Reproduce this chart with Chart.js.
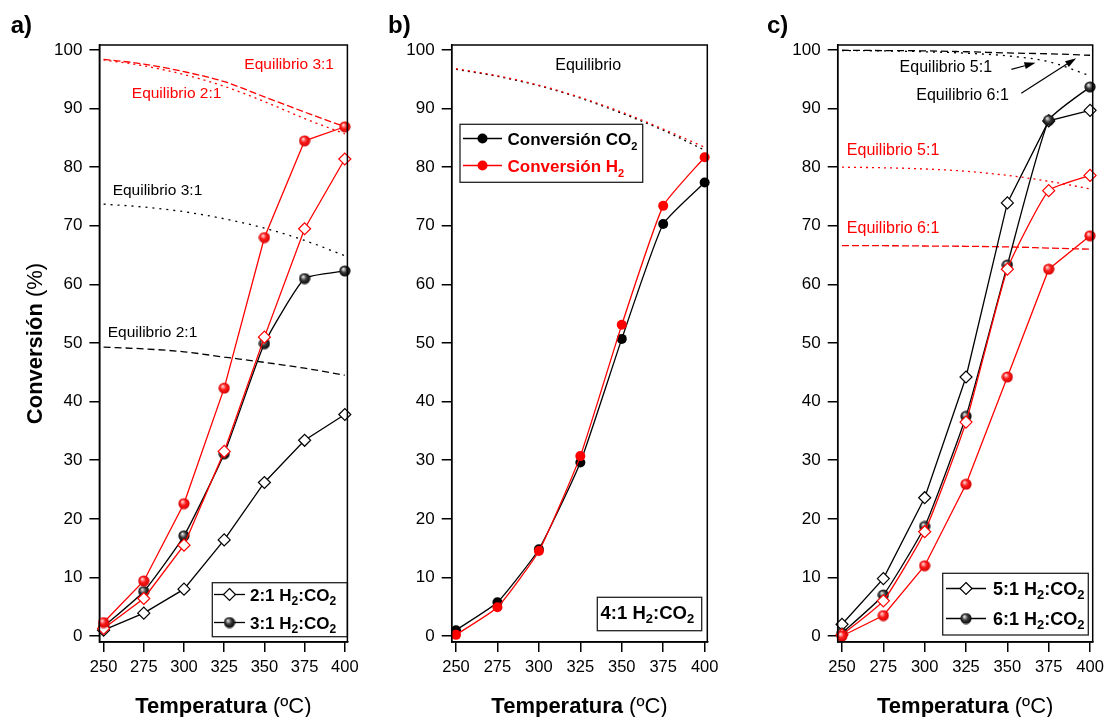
<!DOCTYPE html>
<html>
<head>
<meta charset="utf-8">
<script src="https://cdn.jsdelivr.net/npm/chart.js@4"></script>
<style>
  html, body { margin: 0; padding: 0; background: #fff; }
  #wrap { position: relative; width: 1105px; height: 717px; overflow: hidden; }
  #wrap canvas { position: absolute; left: 0; top: 0; }
</style>
</head>
<body>
<div id="wrap">
  <canvas id="chartA" width="1130" height="717"></canvas>
  <canvas id="chartB" width="1130" height="717"></canvas>
  <canvas id="chartC" width="1130" height="717"></canvas>
</div>
<script>
// Conversion vs temperature for three H2:CO2 feed ratios

const temps = [250, 275, 300, 325, 350, 375, 400];
const xTicks = [250, 275, 300, 325, 350, 375, 400];
const yTicks = [0, 10, 20, 30, 40, 50, 60, 70, 80, 90, 100];

// a) 2:1 and 3:1
const aCO2_21 = [1.0, 3.9, 8.0, 16.4, 26.2, 33.4, 37.8];
const aH2_21 = [1.3, 6.4, 15.5, 31.5, 51.0, 69.5, 81.4];
const aCO2_31 = [1.6, 7.6, 17.1, 31.1, 49.9, 61.0, 62.3];
const aH2_31 = [2.3, 9.4, 22.6, 42.3, 68.0, 84.5, 86.9];
const aEqH2_31 = [98.4, 97.6, 96.3, 94.6, 92.0, 89.4, 86.9];
const aEqH2_21 = [98.3, 97.3, 95.8, 93.8, 91.2, 88.3, 85.7];
const aEqCO2_31 = [73.7, 73.2, 72.4, 71.2, 69.6, 67.5, 64.9];
const aEqCO2_21 = [49.3, 49.0, 48.5, 47.6, 46.7, 45.7, 44.5];

// b) 4:1
const bCO2 = [1.0, 5.75, 14.8, 29.6, 50.7, 70.3, 77.4];
const bH2 = [0.2, 4.9, 14.5, 30.7, 53.1, 73.4, 81.7];
const bEqH2 = [96.8, 95.6, 94.0, 91.9, 89.4, 86.5, 83.4];
const bEqCO2 = [96.7, 95.5, 93.9, 91.8, 89.2, 86.3, 82.9];

// c) 5:1 and 6:1
const cCO2_51 = [2.0, 9.8, 23.6, 44.2, 73.9, 87.9, 89.7];
const cCO2_61 = [0.5, 7.0, 18.7, 37.5, 63.3, 88.0, 93.7];
const cH2_51 = [0.2, 6.0, 17.8, 36.5, 62.6, 76.0, 78.6];
const cH2_61 = [0.0, 3.5, 12.0, 25.9, 44.2, 62.6, 68.3];
const cEqCO2_dash = [99.95, 99.9, 99.85, 99.7, 99.5, 99.35, 99.1];
const cEqCO2_dot = [99.9, 99.85, 99.7, 99.45, 99.0, 98.0, 95.6];
const cEqH2_51 = [80.0, 79.9, 79.7, 79.3, 78.6, 77.6, 76.3];
const cEqH2_61 = [66.6, 66.6, 66.55, 66.5, 66.4, 66.2, 66.0];

const FONT = '"Liberation Sans", Arial, Helvetica, sans-serif';
const RED = '#ff0000';

function sphere(inner, mid, outer) {
  const c = document.createElement('canvas');
  c.width = 12; c.height = 12;
  const g = c.getContext('2d');
  const grad = g.createRadialGradient(4.3, 4.0, 0.4, 6, 6, 6);
  grad.addColorStop(0, inner);
  grad.addColorStop(0.45, mid);
  grad.addColorStop(1, outer);
  g.fillStyle = grad;
  g.beginPath(); g.arc(6, 6, 5.6, 0, Math.PI * 2); g.fill();
  return c;
}
const ballBlack = sphere('#e6e6e6', '#3a3a3a', '#000');
const ballRed = sphere('#ffd6d6', '#ff1a1a', '#cc0000');

function pts(arr) { return temps.map((t, i) => ({ x: t, y: arr[i] })); }

function dataLine(arr, color, marker, smooth) {
  const ds = {
    data: pts(arr), borderColor: color, borderWidth: 1.3, clip: false,
    pointRadius: 5.5, pointBorderWidth: 1.2, pointBorderColor: color,
    tension: smooth ? 0.15 : 0
  };
  if (marker === 'diamond') {
    ds.pointStyle = 'rectRot'; ds.pointBackgroundColor = '#fff'; ds.pointRadius = 6;
  } else if (marker === 'ball') {
    ds.pointStyle = color === RED ? ballRed : ballBlack;
  } else {
    ds.pointStyle = 'circle'; ds.pointBackgroundColor = color; ds.pointRadius = 5; ds.pointBorderWidth = 0;
  }
  return ds;
}

function eqLine(arr, color, dash) {
  return {
    data: pts(arr), borderColor: color, borderWidth: 1.3, borderDash: dash,
    pointRadius: 0, cubicInterpolationMode: 'monotone', fill: false
  };
}

function drawParts(ctx, parts, x, y, align) {
  let total = 0;
  parts.forEach(p => { ctx.font = p.f; p.w = ctx.measureText(p.t).width; total += p.w; });
  let cx = align === 'center' ? x - total / 2 : x;
  ctx.textAlign = 'left';
  ctx.textBaseline = 'alphabetic';
  parts.forEach(p => {
    ctx.font = p.f;
    ctx.fillStyle = p.c || '#000';
    ctx.fillText(p.t, cx, y + (p.dy || 0));
    cx += p.w;
  });
}

function ratioParts(r, size, color) {
  const big = `bold ${size}px ${FONT}`, small = `bold ${Math.round(size * 0.7)}px ${FONT}`;
  return [
    { t: r + ' H', f: big, c: color }, { t: '2', f: small, c: color, dy: 4 },
    { t: ':CO', f: big, c: color }, { t: '2', f: small, c: color, dy: 4 }
  ];
}

function convParts(gas, color) {
  return [
    { t: 'Conversión ' + gas, f: `bold 17px ${FONT}`, c: color },
    { t: '2', f: `bold 11px ${FONT}`, c: color, dy: 5 }
  ];
}

function drawMarker(ctx, m, color, x, y) {
  if (m === 'diamond') {
    ctx.fillStyle = '#fff'; ctx.strokeStyle = color; ctx.lineWidth = 1.2;
    ctx.beginPath();
    ctx.moveTo(x, y - 6); ctx.lineTo(x + 6, y); ctx.lineTo(x, y + 6); ctx.lineTo(x - 6, y);
    ctx.closePath(); ctx.fill(); ctx.stroke();
  } else if (m === 'ball') {
    const img = color === RED ? ballRed : ballBlack;
    ctx.drawImage(img, x - 6, y - 6);
  } else {
    ctx.fillStyle = color;
    ctx.beginPath(); ctx.arc(x, y, 5, 0, Math.PI * 2); ctx.fill();
  }
}

const deco = {
  id: 'deco',
  afterDatasetsDraw(chart, args, o) {
    const ctx = chart.ctx, sx = chart.scales.x, sy = chart.scales.y;
    ctx.save();
    (o.notes || []).forEach(n => {
      ctx.font = `${o.noteSize}px ${FONT}`;
      ctx.fillStyle = n.c;
      ctx.textAlign = 'center';
      ctx.textBaseline = 'middle';
      ctx.fillText(n.t, sx.getPixelForValue(n.x), sy.getPixelForValue(n.y));
    });
    (o.arrows || []).forEach(a => {
      const x1 = sx.getPixelForValue(a.x1), y1 = sy.getPixelForValue(a.y1);
      const x2 = sx.getPixelForValue(a.x2), y2 = sy.getPixelForValue(a.y2);
      const ang = Math.atan2(y2 - y1, x2 - x1), L = 11, W = 3.5;
      const cs = Math.cos(ang), sn = Math.sin(ang);
      ctx.strokeStyle = '#000'; ctx.fillStyle = '#000'; ctx.lineWidth = 1.2;
      ctx.beginPath(); ctx.moveTo(x1, y1); ctx.lineTo(x2 - L * cs, y2 - L * sn); ctx.stroke();
      ctx.beginPath();
      ctx.moveTo(x2, y2);
      ctx.lineTo(x2 - L * cs + W * sn, y2 - L * sn - W * cs);
      ctx.lineTo(x2 - L * cs - W * sn, y2 - L * sn + W * cs);
      ctx.closePath(); ctx.fill();
    });
    (o.legends || []).forEach(lg => {
      const [bx, by, bw, bh] = lg.box;
      ctx.fillStyle = '#fff';
      ctx.fillRect(bx, by, bw, bh);
      ctx.strokeStyle = '#222'; ctx.lineWidth = 1.3;
      ctx.strokeRect(bx, by, bw, bh);
      lg.rows.forEach(r => {
        if (r.marker) {
          ctx.strokeStyle = r.color; ctx.lineWidth = 1.3;
          ctx.beginPath(); ctx.moveTo(r.lx[0], r.y); ctx.lineTo(r.lx[1], r.y); ctx.stroke();
          drawMarker(ctx, r.marker, r.color, (r.lx[0] + r.lx[1]) / 2, r.y);
        }
        drawParts(ctx, r.parts, r.tx, r.y + 6, 'left');
      });
    });
    ctx.restore();
  },
  afterDraw(chart, args, o) {
    const ctx = chart.ctx, ca = chart.chartArea;
    ctx.save();
    ctx.strokeStyle = '#000'; ctx.lineWidth = 1.5;
    ctx.strokeRect(ca.left, ca.top, ca.right - ca.left, ca.bottom - ca.top);
    ctx.font = `bold 24px ${FONT}`; ctx.fillStyle = '#000';
    ctx.textAlign = 'left'; ctx.textBaseline = 'alphabetic';
    ctx.fillText(o.label, o.labelX, 33);
    drawParts(ctx, [
      { t: 'Temperatura', f: `bold 22px ${FONT}` },
      { t: ' (ºC)', f: `22px ${FONT}` }
    ], (ca.left + ca.right) / 2, 713, 'center');
    if (o.yTitle) {
      ctx.translate(41.5, (ca.top + ca.bottom) / 2);
      ctx.rotate(-Math.PI / 2);
      drawParts(ctx, [
        { t: 'Conversión', f: `bold 22px ${FONT}` },
        { t: ' (%)', f: `22px ${FONT}` }
      ], 0, 0, 'center');
    }
    ctx.restore();
  }
};
Chart.register(deco);

function makeOptions(left, right, decoOpts) {
  return {
    responsive: false,
    animation: false,
    layout: { autoPadding: false, padding: { left: left - 50, right: 1130 - right, top: 45, bottom: 35 } },
    plugins: { legend: { display: false }, tooltip: { enabled: false }, deco: decoOpts },
    scales: {
      x: {
        type: 'linear', min: 247.4, max: 401.6,
        afterBuildTicks: s => { s.ticks = xTicks.map(v => ({ value: v })); },
        afterFit: s => { s.height = 40; },
        ticks: { color: '#000', font: { family: FONT, size: 16.5 }, padding: 6, maxRotation: 0, autoSkip: false },
        grid: { drawOnChartArea: false, color: '#000', lineWidth: 1.5, tickLength: 10 },
        border: { color: '#000', width: 1.5 }
      },
      y: {
        type: 'linear', min: -1.02, max: 100.85,
        afterBuildTicks: s => { s.ticks = yTicks.map(v => ({ value: v })); },
        afterFit: s => { s.width = 50; },
        ticks: { color: '#000', font: { family: FONT, size: 17 }, padding: 7 },
        grid: { drawOnChartArea: false, color: '#000', lineWidth: 1.5, tickLength: 10 },
        border: { color: '#000', width: 1.5 }
      }
    }
  };
}

new Chart(document.getElementById('chartA'), {
  type: 'line',
  data: {
    datasets: [
      dataLine(aH2_31, RED, 'ball', false),
      dataLine(aH2_21, RED, 'diamond', false),
      dataLine(aCO2_31, '#000', 'ball', true),
      dataLine(aCO2_21, '#000', 'diamond', false),
      eqLine(aEqH2_31, RED, [7, 3]),
      eqLine(aEqH2_21, RED, [2, 4]),
      eqLine(aEqCO2_31, '#000', [2, 5]),
      eqLine(aEqCO2_21, '#000', [7, 4])
    ]
  },
  options: makeOptions(99.4, 347.4, {
    label: 'a)', labelX: 10.7, yTitle: true, noteSize: 15.5,
    notes: [
      { t: 'Equilibrio 3:1', x: 365.4, y: 97.4, c: RED },
      { t: 'Equilibrio 2:1', x: 295.4, y: 92.6, c: RED },
      { t: 'Equilibrio 3:1', x: 283.5, y: 76.0, c: '#000' },
      { t: 'Equilibrio 2:1', x: 280.4, y: 51.7, c: '#000' }
    ],
    legends: [{
      box: [212.3, 582.7, 135.1, 54],
      rows: [
        { y: 594.5, marker: 'diamond', color: '#000', lx: [214, 245], tx: 250, parts: ratioParts('2:1', 17, '#000') },
        { y: 622.5, marker: 'ball', color: '#000', lx: [214, 245], tx: 250, parts: ratioParts('3:1', 17, '#000') }
      ]
    }]
  })
});

new Chart(document.getElementById('chartB'), {
  type: 'line',
  data: {
    datasets: [
      dataLine(bH2, RED, 'circle', true),
      dataLine(bCO2, '#000', 'circle', true),
      eqLine(bEqH2, RED, [2, 4]),
      eqLine(bEqCO2, '#000', [2, 4])
    ]
  },
  options: makeOptions(451.7, 707.3, {
    label: 'b)', labelX: 388, noteSize: 16,
    notes: [{ t: 'Equilibrio', x: 329.7, y: 97.4, c: '#000' }],
    legends: [
      {
        box: [460, 124.3, 182.7, 58],
        rows: [
          { y: 138.5, marker: 'circle', color: '#000', lx: [463, 502], tx: 507.5, parts: convParts('CO', '#000') },
          { y: 165.5, marker: 'circle', color: RED, lx: [463, 502], tx: 507.5, parts: convParts('H', RED) }
        ]
      },
      {
        box: [597.3, 597.3, 104.4, 33.4],
        rows: [{ y: 613, tx: 600.5, parts: ratioParts('4:1', 18.5, '#000') }]
      }
    ]
  })
});

new Chart(document.getElementById('chartC'), {
  type: 'line',
  data: {
    datasets: [
      dataLine(cH2_61, RED, 'ball', false),
      dataLine(cH2_51, RED, 'diamond', true),
      dataLine(cCO2_61, '#000', 'ball', true),
      dataLine(cCO2_51, '#000', 'diamond', false),
      eqLine(cEqCO2_dash, '#000', [7, 4]),
      eqLine(cEqCO2_dot, '#000', [2, 5]),
      eqLine(cEqH2_51, RED, [2, 4]),
      eqLine(cEqH2_61, RED, [7, 3])
    ]
  },
  options: makeOptions(837.7, 1092.7, {
    label: 'c)', labelX: 767, noteSize: 16,
    notes: [
      { t: 'Equilibrio 5:1', x: 312.8, y: 97.0, c: '#000' },
      { t: 'Equilibrio 6:1', x: 322.9, y: 92.2, c: '#000' },
      { t: 'Equilibrio 5:1', x: 280.9, y: 82.8, c: RED },
      { t: 'Equilibrio 6:1', x: 280.9, y: 69.5, c: RED }
    ],
    arrows: [
      { x1: 352.4, y1: 96.7, x2: 367.0, y2: 97.8 },
      { x1: 358.4, y1: 92.6, x2: 391.6, y2: 98.6 }
    ],
    legends: [{
      box: [942.7, 573.3, 145.6, 61.7],
      rows: [
        { y: 588.5, marker: 'diamond', color: '#000', lx: [946, 986], tx: 993, parts: ratioParts('5:1', 18, '#000') },
        { y: 618.5, marker: 'ball', color: '#000', lx: [946, 986], tx: 993, parts: ratioParts('6:1', 18, '#000') }
      ]
    }]
  })
});
</script>
</body>
</html>
